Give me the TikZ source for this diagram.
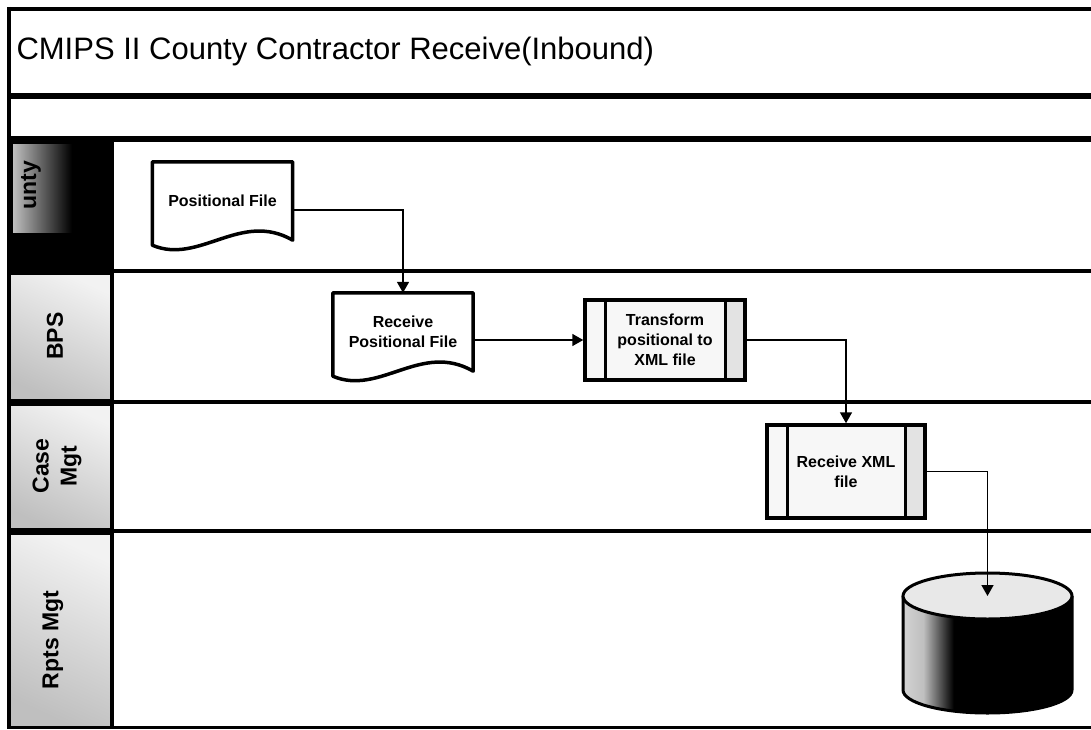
\documentclass[tikz,border=0pt]{standalone}
\usepackage{fontspec}
\setmainfont{Liberation Sans}
\usepackage{tikz}
\usetikzlibrary{arrows.meta,calc}
\newcommand\boxtext{\fontsize{16}{20}\selectfont\bfseries}
\newcommand\docoutline[1]{%
  \draw[docline] (#1.south east) .. controls ($(#1.south east)+(-52,-30)$) and ($(#1.south west)+(47,25)$) .. ($(#1.south west)+(0,5)$)
    -- (#1.north west) -- (#1.north east) -- cycle;}
\pgfdeclarehorizontalshading{dbbody}{100bp}{color(0bp)=(gray!35); color(25bp)=(gray!35); color(31bp)=(gray!50); color(40bp)=(black); color(100bp)=(black)}
\tikzset{
  lane/.style={line width=4.5pt},
  headsep/.style={line width=7pt},
  head/.style={top color=gray!10, bottom color=gray!50, shading angle=-25},
  lanelabel/.style={rotate=90, font=\fontsize{23}{28}\selectfont\bfseries, align=center},
  docline/.style={line width=3.5pt, line join=round},
  docbox/.style={minimum width=140pt, minimum height=78pt, inner sep=2pt, align=center, font=\boxtext},
  procbox/.style={draw, line width=3.5pt, fill=gray!6, align=center, font=\boxtext,
    path picture={
      \fill[gray!22] ([xshift=-20pt]path picture bounding box.north east) rectangle (path picture bounding box.south east);
      \draw[line width=3pt] ([xshift=20pt]path picture bounding box.north west) -- ([xshift=20pt]path picture bounding box.south west);
      \draw[line width=3pt] ([xshift=-20pt]path picture bounding box.north east) -- ([xshift=-20pt]path picture bounding box.south east);
    }},
  flow/.style={line width=1.6pt, -{Triangle[length=11pt,width=12pt]}}
}
\begin{document}
\begin{tikzpicture}[x=1pt,y=-1pt]
  \useasboundingbox (0,0) rectangle (1091,730);
  % title
  \node[anchor=base west, font=\fontsize{31}{36}\selectfont] (title) at (13,60) {CMIPS II County Contractor Receive(Inbound)};
  % lane heads
  \fill (11,141) rectangle (110,270);
  \shade[left color=gray!50, right color=black] (13,145) rectangle (72,232);
  \shade[head] (11,271) rectangle (110,402);
  \shade[head] (11,402) rectangle (110,531);
  \shade[head] (11,531) rectangle (110,727);
  \node[lanelabel] (county) at (31,185) {unty};
  \node[lanelabel] (bps) at (55,336) {BPS};
  \node[lanelabel] (casemgt) at (57,466) {Case\\Mgt};
  \node[lanelabel] (rptsmgt) at (53,640) {Rpts Mgt};
  % frame and lanes
  \draw[lane] (9,9) -- (1091,9);
  \draw[lane] (9,7) -- (9,729);
  \draw[lane, line width=6pt] (9,96) -- (1091,96);
  \draw[lane, line width=6pt] (9,139) -- (1091,139);
  \draw[lane] (112,139) -- (112,727);
  \foreach \y in {271,402,531} {
    \draw[headsep] (9,\y) -- (112,\y);
    \draw[lane] (112,\y) -- (1091,\y);
  }
  \draw[lane, line width=3pt] (9,727) -- (1091,727);
  % steps
  \node[docbox] (pfile) at (222.5,201) {Positional File};
  \docoutline{pfile}
  \node[docbox] (recvpos) at (403,332) {Receive\\Positional File};
  \docoutline{recvpos}
  \node[procbox, minimum width=160pt, minimum height=80pt] (xform) at (665,340) {Transform\\positional to\\XML file};
  \node[procbox, minimum width=158pt, minimum height=93pt] (rxml) at (846,471.5) {Receive XML\\file};
  % data store
  \coordinate (dbtop) at (987.5,596);
  \shade[shading=dbbody] (903,596) -- (903,690) arc[start angle=180, end angle=0, x radius=84.5, y radius=23] -- (1072,596) -- cycle;
  \draw[line width=3pt] (903,596) -- (903,690) arc[start angle=180, end angle=0, x radius=84.5, y radius=23] -- (1072,596);
  \draw[line width=3pt, fill=gray!18] (dbtop) ellipse [x radius=84.5, y radius=23];
  % flow
  \draw[flow] ([yshift=-9pt]pfile.east) -| (recvpos.north);
  \draw[flow] (recvpos.east |- xform.west) -- (xform.west);
  \draw[flow] (xform.east) -| (rxml.north);
  \draw[flow] (rxml.east) -| (dbtop);
\end{tikzpicture}
\end{document}
